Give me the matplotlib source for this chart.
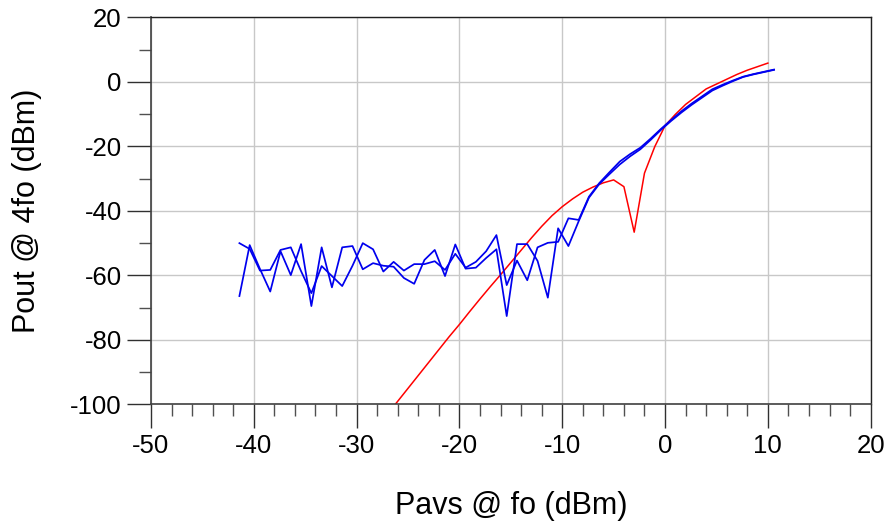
import matplotlib.pyplot as plt
from matplotlib.ticker import MultipleLocator

plt.rcParams["font.family"] = ["Liberation Sans", "DejaVu Sans"]
plt.rcParams["axes.unicode_minus"] = False

# Swept available input power (dBm) for the two measured sweeps
PAVS_MEAS = [
    -41.4, -40.4, -39.4, -38.4, -37.4, -36.4, -35.4, -34.4, -33.4, -32.4,
    -31.4, -30.4, -29.4, -28.4, -27.4, -26.4, -25.4, -24.4, -23.4, -22.4,
    -21.4, -20.4, -19.4, -18.4, -17.4, -16.4, -15.4, -14.4, -13.4, -12.4,
    -11.4, -10.4, -9.4, -8.4, -7.4, -6.4, -5.4, -4.4, -3.4, -2.4,
    -1.4, -0.4, 0.6, 1.6, 2.6, 3.6, 4.6, 5.6, 6.6, 7.6,
    8.6, 9.6, 10.6,
]

# 4th harmonic output, sweep 1 and sweep 2 (dBm)
POUT_SWEEP1 = [
    -50.0, -51.8, -58.5, -58.3, -52.1, -51.3, -58.7, -65.5, -57.1, -60.2,
    -63.3, -57.0, -50.0, -51.9, -58.8, -55.8, -58.5, -56.5, -56.5, -55.6,
    -58.3, -53.3, -57.6, -55.8, -52.5, -47.5, -63.0, -55.4, -61.5, -51.3,
    -49.9, -49.6, -42.3, -42.8, -35.6, -31.4, -28.0, -24.7, -22.4, -20.4,
    -17.6, -14.6, -11.8, -9.1, -6.7, -4.5, -2.3, -0.9, 0.4, 1.6,
    2.4, 3.1, 3.8,
]
POUT_SWEEP2 = [
    -66.4, -50.6, -58.0, -65.0, -52.5, -59.9, -50.3, -69.5, -51.3, -63.7,
    -51.3, -50.9, -58.1, -56.2, -57.0, -57.3, -60.8, -62.6, -55.2, -52.1,
    -60.2, -50.4, -57.9, -57.6, -54.6, -51.9, -72.6, -50.3, -50.3, -55.5,
    -66.9, -45.4, -50.9, -43.2, -35.9, -31.7, -28.6, -25.6, -23.1, -20.9,
    -18.0, -14.9, -12.1, -9.5, -7.1, -4.9, -2.7, -1.2, 0.2, 1.5,
    2.3, 3.0, 3.7,
]

# Simulated 4th harmonic output (dBm)
PAVS_SIM = [
    -27, -26, -25, -24, -23, -22, -21, -20, -19, -18,
    -17, -16, -15, -14, -13, -12, -11, -10, -9, -8,
    -7, -6, -5, -4, -3, -2, -1, 0, 1, 2,
    3, 4, 5, 6, 7, 8, 9, 10,
]
POUT_SIM = [
    -103.0, -99.0, -95.0, -91.0, -87.0, -83.0, -79.0, -75.2, -71.2, -67.3,
    -63.5, -59.8, -56.0, -52.2, -48.4, -44.8, -41.5, -38.7, -36.3, -34.2,
    -32.6, -31.3, -30.4, -32.5, -46.6, -28.3, -20.1, -13.6, -10.1, -7.0,
    -4.6, -2.2, -0.7, 0.8, 2.3, 3.6, 4.7, 5.8,
]

fig = plt.figure(figsize=(8.85, 5.24), dpi=100)
ax = fig.add_axes([0.1706, 0.2281, 0.8132, 0.7389])

ax.plot(PAVS_SIM, POUT_SIM, color="#ff0000", linewidth=1.1)
ax.plot(PAVS_MEAS, POUT_SWEEP1, color="#0000ee", linewidth=1.25)
ax.plot(PAVS_MEAS, POUT_SWEEP2, color="#0000ee", linewidth=1.25)

ax.set_xlim(-50, 20)
ax.set_ylim(-100, 20)
ax.xaxis.set_major_locator(MultipleLocator(10))
ax.xaxis.set_minor_locator(MultipleLocator(2))
ax.yaxis.set_major_locator(MultipleLocator(20))
ax.yaxis.set_minor_locator(MultipleLocator(10))

ax.grid(True, which="major", color="#c8c8c8", linewidth=1.0)
ax.set_axisbelow(True)

for side in ("left", "bottom"):
    ax.spines[side].set_color("#404040")
    ax.spines[side].set_linewidth(1.2)
for side in ("top", "right"):
    ax.spines[side].set_color("#202020")
    ax.spines[side].set_linewidth(1.0)

ax.tick_params(which="major", direction="out", length=17, width=1.0,
               color="#303030", labelsize=18.5, pad=4)
ax.tick_params(which="minor", direction="out", length=8.5, width=1.0,
               color="#505050")
ax.tick_params(top=False, right=False, which="both")

ax.set_xlabel("Pavs @ fo (dBm)", fontsize=22, labelpad=24)
ax.set_ylabel("Pout @ 4fo (dBm)", fontsize=22, labelpad=20)

fig.savefig("out.png", dpi=100)
